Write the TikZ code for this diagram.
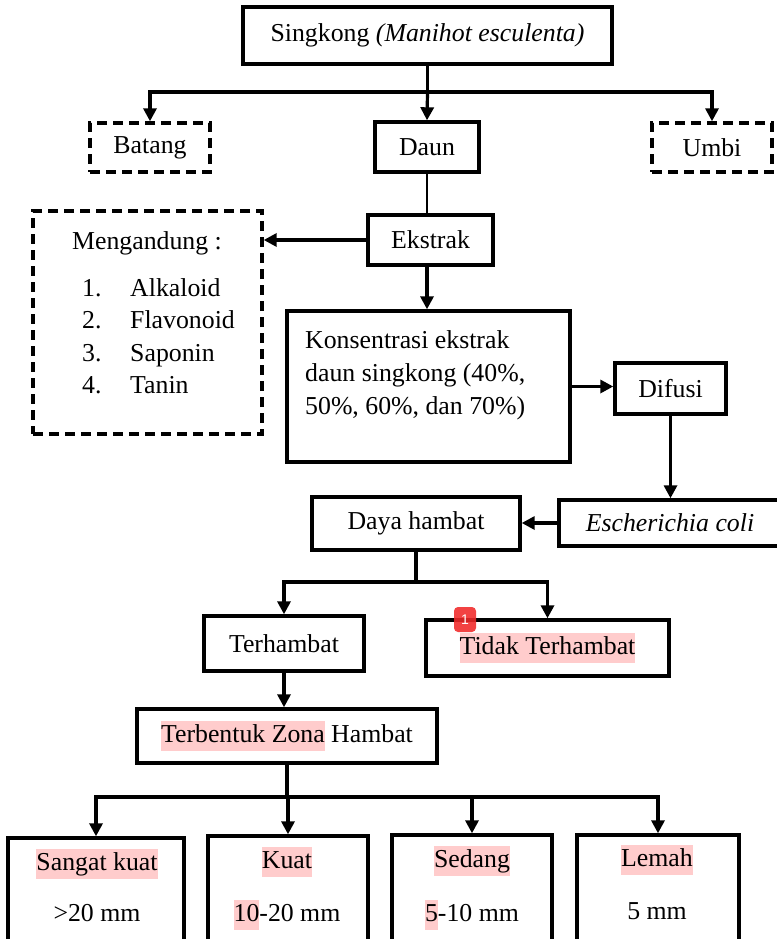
\documentclass[tikz,border=0pt]{standalone}
\usepackage{fontspec}
\setmainfont{Liberation Serif}
\newfontfamily\badgefont{Liberation Sans}
\usetikzlibrary{arrows.meta}
\definecolor{hlpink}{HTML}{FFCCCC}
\definecolor{badgered}{HTML}{F02828}
\newcommand{\mainsize}{\fontsize{25.8}{30}\selectfont}
\newcommand{\hlt}[1]{{\setlength{\fboxsep}{0pt}\colorbox{hlpink}{\strut #1}}}
\begin{document}
\begin{tikzpicture}[x=1pt,y=-1pt,
  box/.style={draw, line width=3.4pt, inner sep=0pt, font=\mainsize},
  dbox/.style={box, dash pattern=on 10pt off 6pt},
  arr/.style={line width=3.2pt, -{Triangle[length=13pt,width=13pt]}},
  ln/.style={line width=3.2pt},
  thinln/.style={line width=1.4pt},
  txt/.style={font=\mainsize, inner sep=0pt}]
\useasboundingbox (0,0) rectangle (776,939);

% boxes
\node[box, minimum width=369pt, minimum height=57pt] (top) at (427.5,35.5) {Singkong \textit{(Manihot esculenta)}};
\node[dbox, minimum width=120pt, minimum height=49pt] (batang) at (150,147.5) {Batang};
\node[box, minimum width=104pt, minimum height=50pt] (daun) at (427,147) {Daun};
\node[dbox, minimum width=120pt, minimum height=49pt] (umbi) at (712,147.5) {Umbi};
\node[box, minimum width=125pt, minimum height=50pt] (ekstrak) at (430.5,240) {Ekstrak};
\node[dbox, minimum width=229pt, minimum height=223pt] (meng) at (147.5,322.5) {};
\node[box, minimum width=283pt, minimum height=151pt] (kons) at (428.5,386.5) {};
\node[box, minimum width=111pt, minimum height=51pt] (difusi) at (670.5,388.5) {Difusi};
\node[box, minimum width=222pt, minimum height=46pt] (ecoli) at (670,523) {\textit{Escherichia coli}};
\node[box, minimum width=208pt, minimum height=53pt] (daya) at (416,523.5) {Daya hambat};
\node[box, minimum width=160pt, minimum height=55pt] (terh) at (284,643.5) {Terhambat};
\node[box, minimum width=243pt, minimum height=56pt] (tidak) at (547.5,648) {\hlt{Tidak Terhambat}};
\node[box, minimum width=300pt, minimum height=54pt] (terb) at (287,736) {\hlt{Terbentuk Zona} Hambat};
\node[box, minimum width=176pt, minimum height=110pt] (sangat) at (96,893) {};
\node[box, minimum width=160pt, minimum height=110pt] (kuat) at (288,891) {};
\node[box, minimum width=160pt, minimum height=110pt] (sedang) at (472,890) {};
\node[box, minimum width=162pt, minimum height=110pt] (lemah) at (658,890) {};

% texts inside Mengandung box
\node[txt, anchor=base] (mtitle) at (147,249) {Mengandung :};
\node[txt, anchor=base west] (n1) at (82,296) {1.};
\node[txt, anchor=base west] (n2) at (82,328.5) {2.};
\node[txt, anchor=base west] (n3) at (82,361) {3.};
\node[txt, anchor=base west] (n4) at (82,393.5) {4.};
\node[txt, anchor=base west] (i1) at (130,296) {Alkaloid};
\node[txt, anchor=base west] (i2) at (130,328.5) {Flavonoid};
\node[txt, anchor=base west] (i3) at (130,361) {Saponin};
\node[txt, anchor=base west] (i4) at (130,393.5) {Tanin};

% texts inside Konsentrasi box
\node[txt, anchor=base west] (k1) at (305,348) {Konsentrasi ekstrak};
\node[txt, anchor=base west] (k2) at (305,381) {daun singkong (40\%,};
\node[txt, anchor=base west] (k3) at (305,414) {50\%, 60\%, dan 70\%)};

% texts inside bottom boxes
\node[txt] (s1) at (97,864) {\hlt{Sangat kuat}};
\node[txt] (s2) at (97,915) {\strut>20 mm};
\node[txt] (q1) at (287,862) {\hlt{Kuat}};
\node[txt] (q2) at (287,915) {\hlt{10}-20 mm};
\node[txt] (d1) at (472,861) {\hlt{Sedang}};
\node[txt] (d2) at (472,915) {\hlt{5}-10 mm};
\node[txt] (l1) at (657,860) {\hlt{Lemah}};
\node[txt] (l2) at (657,913) {\strut 5 mm};

% connectors
\coordinate (j1) at (427.5,92);
\draw[ln] (top.south) -- (j1);
\draw[arr] (j1) -- (daun.north);
\draw[arr] (j1) -| (batang.north);
\draw[arr] (j1) -| (umbi.north);
\draw[thinln] (daun.south) -- (daun.south |- ekstrak.north);
\draw[arr] (daun.south |- ekstrak.south) -- (daun.south |- kons.north);
\draw[arr] (ekstrak.west) -- (meng.east |- ekstrak.west);
\draw[arr] (kons.east) -- (difusi.west |- kons.east);
\draw[arr] (difusi.south) -- (difusi.south |- ecoli.north);
\draw[arr] (ecoli.west) -- (daya.east |- ecoli.west);
\coordinate (j2) at (416,582);
\draw[ln] (daya.south) -- (j2);
\draw[arr] (j2) -| (terh.north);
\draw[arr] (j2) -| (tidak.north);
\draw[arr] (terh.south) -- (terh.south |- terb.north);
\coordinate (j3) at (287,797);
\draw[ln] (terb.south) -- (j3);
\draw[arr] (j3) -| (sangat.north);
\draw[arr] (j3) -| (kuat.north);
\draw[arr] (j3) -| (sedang.north);
\draw[arr] (j3) -| (lemah.north);

% badge
\node[fill=badgered, fill opacity=0.88, text opacity=1, rounded corners=4pt, minimum width=22pt, minimum height=25pt,
      inner sep=0pt, text=white, font=\badgefont\fontsize{14}{14}\selectfont] (badge) at (465,619.5) {1};
\end{tikzpicture}
\end{document}
